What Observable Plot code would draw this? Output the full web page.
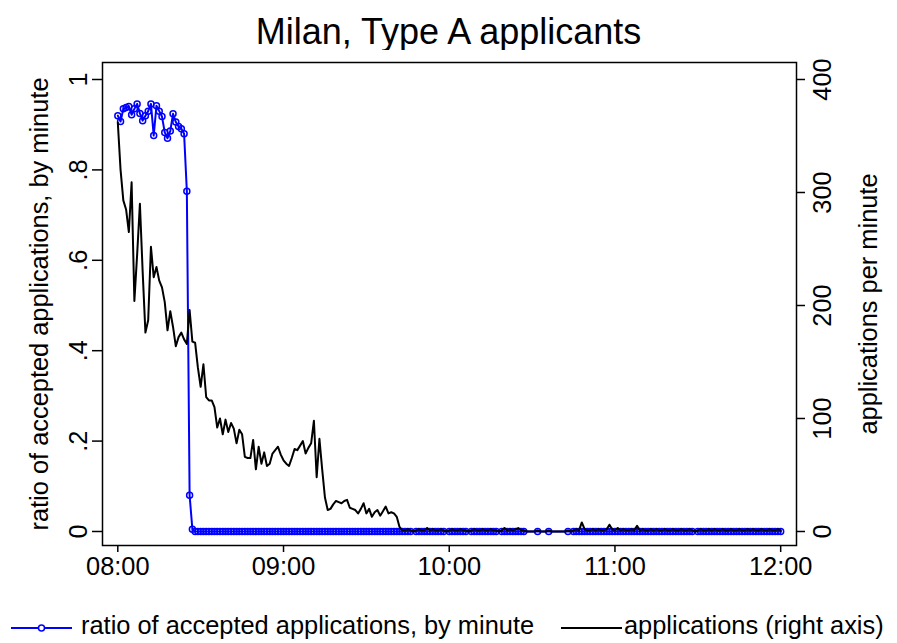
<!DOCTYPE html>
<html>
<head>
<meta charset="utf-8">
<script src="https://cdn.jsdelivr.net/npm/d3@7"></script>
<script src="https://cdn.jsdelivr.net/npm/@observablehq/plot@0.6"></script>
<style>
  html, body { margin: 0; padding: 0; background: #fff; }
  body { font-family: "Liberation Sans", Arial, Helvetica, sans-serif; }
  #wrap { position: relative; width: 897px; height: 643px; overflow: hidden; }
  #title { position: absolute; left: 0; top: 14px; width: 897px; text-align: center; font-size: 36px; line-height: 1; color: #000; }
  #chart { position: absolute; left: 0; top: 50px; }
  #legend { position: absolute; left: 0; top: 612px; width: 897px; height: 31px; font-size: 25.4px; color: #000; }
  .lg-sw { position: absolute; top: 0; }
  .lg-tx { position: absolute; top: 1px; line-height: 1; white-space: nowrap; }
</style>
</head>
<body>
<div id="wrap">
  <div id="title"></div>
  <div id="chart"></div>
  <div id="legend"></div>
</div>
<script>
// ---------------- data (minutes after 08:00) ----------------
const chartTitle = "Milan, Type A applicants";
const leftTitle = "ratio of accepted applications, by minute";
const rightTitle = "applications per minute";
const legendLabels = ["ratio of accepted applications, by minute", "applications (right axis)"];

const xTicks = [0, 60, 120, 180, 240];
const xTickLabels = ["08:00", "09:00", "10:00", "11:00", "12:00"];
const leftTicks = [0, 0.2, 0.4, 0.6, 0.8, 1];
const leftTickLabels = ["0", ".2", ".4", ".6", ".8", "1"];
const rightTicks = [0, 100, 200, 300, 400];
const rightTickLabels = ["0", "100", "200", "300", "400"];
const rightMax = 400; // right axis 0–400 aligned with left axis 0–1

// applications per minute, 08:00 ... 12:00
const applications = [
  362, 320, 293, 285, 265, 309, 204, 245, 290, 230,
  176, 187, 252, 225, 234, 222, 216, 203, 178, 195,
  181, 164, 172, 176, 170, 166, 196, 168, 167, 145,
  128, 148, 119, 116, 116, 110, 92, 100, 86, 99,
  88, 96, 91, 78, 90, 86, 66, 65, 65, 81,
  55, 75, 60, 70, 58, 60, 69, 72, 75, 68,
  63, 60, 58, 65, 73, 72, 76, 80, 69, 74,
  78, 98, 48, 82, 55, 30, 19, 20, 24, 27,
  26, 25, 27, 28, 21, 20, 19, 16, 20, 25,
  16, 20, 13, 17, 19, 14, 18, 22, 16, 17,
  16, 13, 4, 1,
  1, 2, 1, 0, 1, 2, 1, 1, 3, 1,
  2, 1, 1, 2, 1, 0, 1, 2, 1, 1,
  2, 1, 1, 0, 1, 2, 1, 1, 2, 1,
  1, 2, 1, 1, 0, 1, 3, 1, 2, 1,
  2, 3, 1, 1, 0, 0, 0, 0, 1, 0,
  0, 0, 1, 0, 0, 0, 0, 0, 0, 1,
  0, 1, 2, 1, 8, 2, 1, 1, 2, 1,
  2, 1, 1, 2, 6, 2, 1, 3, 1, 2,
  1, 1, 2, 1, 5, 1, 2, 1, 1, 2,
  1, 2, 1, 1, 2, 1, 1, 2, 1, 1,
  2, 1, 1, 2, 1, 0, 1, 2, 1, 1,
  2, 1, 2, 1, 1, 2, 1, 1, 2, 1,
  1, 2, 1, 1, 2, 1, 2, 1, 1, 2,
  1, 1, 2, 1, 1, 2, 1
];

// ratio of accepted applications, 08:00–08:24
const ratioHigh = [
  0.920, 0.907, 0.935, 0.938, 0.940, 0.922, 0.935, 0.946, 0.925, 0.909,
  0.920, 0.930, 0.946, 0.876, 0.942, 0.930, 0.918, 0.883, 0.870, 0.886,
  0.924, 0.906, 0.896, 0.891, 0.880
];
// 08:25–08:27
const ratioDrop = [0.753, 0.080, 0.005];
// 08:28–12:00 (null = no applications that minute)
const ratioTail = [
  0,0,0,0,0,0,0,0,0,0,0,0,0,0,0,0,0,0,0,
  0,0,0,0,0,0,0,0,0,0,0,0,0,0,0,0,0,0,0,
  0,0,0,0,0,0,0,0,0,0,0,0,0,0,0,0,0,0,0,
  0,0,0,0,0,0,0,0,0,0,0,0,0,0,0,0,0,0,0,
  0,0,0,null,0,0,0,0,0,0,
  0,0,0,0,0,null,0,0,0,0,
  0,0,0,null,0,0,0,0,0,0,
  0,0,0,0,null,0,0,0,0,0,
  0,0,0,0,null,null,null,null,0,null,
  null,null,0,null,null,null,null,null,null,0,
  null,0,0,0,0,0,0,0,0,0,
  0,0,0,0,0,0,0,0,0,0,
  0,0,0,0,0,0,0,0,0,0,
  0,0,0,0,0,0,0,0,0,0,
  0,0,0,0,0,null,0,0,0,0,
  0,0,0,0,0,0,0,0,0,0,
  0,0,0,0,0,0,0,0,0,0,
  0,0,0,0,0,0,0
];
const ratio = [...ratioHigh, ...ratioDrop, ...ratioTail];

// ---------------- build tables ----------------
const appsRows = applications.map((v, i) => ({minute: i, value: v / rightMax}));
const ratioRows = ratio.map((v, i) => ({minute: i, value: v})).filter(d => d.value != null);

const BLUE = "#0000ff";
const FONT = "'Liberation Sans', Arial, Helvetica, sans-serif";

document.getElementById("title").textContent = chartTitle;

const chart = Plot.plot({
  width: 897,
  height: 550,
  marginLeft: 102,
  marginRight: 101,
  marginTop: 12,
  marginBottom: 55,
  style: {fontFamily: FONT, background: "white", color: "black"},
  x: {domain: [-5.54, 245.73], axis: null},
  y: {domain: [-0.031, 1.0376], axis: null},
  marks: [
    Plot.frame({stroke: "black", strokeWidth: 1.5}),
    // x axis ticks + labels
    Plot.axisX({ticks: xTicks, tickSize: 7, tickFormat: () => "", label: null, strokeWidth: 1.5}),
    Plot.text(xTicks, {x: d => d, text: (d, i) => xTickLabels[i], frameAnchor: "bottom", dy: 11, lineAnchor: "top", fontSize: 25.4}),
    // left axis
    Plot.axisY({anchor: "left", ticks: leftTicks, tickSize: 10, tickFormat: () => "", label: null, strokeWidth: 1.5}),
    Plot.text(leftTicks, {y: d => d, text: (d, i) => leftTickLabels[i], frameAnchor: "left", dx: -16, rotate: -90, lineAnchor: "bottom", textAnchor: "middle", fontSize: 25.4}),
    Plot.text([leftTitle], {text: d => d, frameAnchor: "left", dx: -55, rotate: -90, lineAnchor: "bottom", textAnchor: "middle", fontSize: 25.4}),
    // right axis
    Plot.axisY({anchor: "right", ticks: rightTicks.map(t => t / rightMax), tickSize: 8, tickFormat: () => "", label: null, strokeWidth: 1.5}),
    Plot.text(rightTicks, {y: d => d / rightMax, text: (d, i) => rightTickLabels[i], frameAnchor: "right", dx: 16, rotate: -90, lineAnchor: "top", textAnchor: "middle", fontSize: 25.4}),
    Plot.text([rightTitle], {text: d => d, frameAnchor: "right", dx: 62, rotate: -90, lineAnchor: "top", textAnchor: "middle", fontSize: 25.4}),
    // ratio series
    Plot.line(ratioRows, {x: "minute", y: "value", stroke: BLUE, strokeWidth: 2}),
    Plot.dot(ratioRows, {x: "minute", y: "value", r: 3, stroke: BLUE, strokeWidth: 1.5, fill: "none"}),
    // applications series (right axis)
    Plot.line(appsRows, {x: "minute", y: "value", stroke: "black", strokeWidth: 2})
  ]
});
document.getElementById("chart").appendChild(chart);

// ---------------- legend ----------------
const legend = d3.select("#legend");
const items = [
  {x: 11, w: 61, tx: 81, color: BLUE, dot: true, label: legendLabels[0]},
  {x: 561, w: 61, tx: 624, color: "black", dot: false, label: legendLabels[1]}
];
items.forEach(it => {
  const sw = legend.append("svg").attr("class", "lg-sw")
    .style("left", it.x + "px").attr("width", it.w).attr("height", 31);
  sw.append("line").attr("x1", 0).attr("x2", it.w).attr("y1", 16).attr("y2", 16)
    .attr("stroke", it.color).attr("stroke-width", 2);
  if (it.dot) sw.append("circle").attr("cx", it.w / 2).attr("cy", 16).attr("r", 3)
    .attr("fill", "white").attr("stroke", it.color).attr("stroke-width", 1.5);
  legend.append("div").attr("class", "lg-tx").style("left", it.tx + "px").text(it.label);
});
</script>
</body>
</html>
